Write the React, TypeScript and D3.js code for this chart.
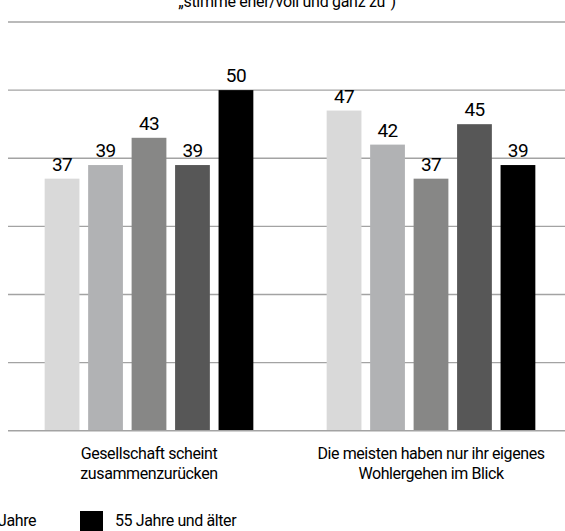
import React from "react";
import * as d3 from "d3";

const categories = [
  ["Gesellschaft scheint", "zusammenzurücken"],
  ["Die meisten haben nur ihr eigenes", "Wohlergehen im Blick"],
];
const seriesNames = ["bis 24 Jahre", "25–34 Jahre", "35–44 Jahre", "45–54 Jahre", "55 Jahre und älter"];
const seriesColors = ["#d9d9d9", "#b1b2b4", "#878786", "#575757", "#000000"];
// one array per age group, one value per statement
const values = [
  [37, 47],
  [39, 42],
  [43, 37],
  [39, 45],
  [50, 39],
];
const yTicks = [0, 10, 20, 30, 40, 50, 60];
const subtitle = "„stimme eher/voll und ganz zu“)";

const W = 565, H = 531;
const FONT = "Roboto, 'Liberation Sans', sans-serif";

export default function App() {
  const catKeys = categories.map((c, i) => "c" + i);
  const x0 = d3.scaleBand().domain(catKeys).range([8, 572]).paddingInner(0.26).paddingOuter(0.13);
  const x1 = d3.scaleBand().domain(seriesNames).range([0, x0.bandwidth()]).paddingInner(0.2);
  const y = d3.scaleLinear().domain([0, 60]).range([430.7, 22]);

  // legend: only the last items fit in the frame, the others sit left of it
  const legendX = (i) => 80 - (seriesNames.length - 1 - i) * 165;

  return (
    <svg width={W} height={H} style={{ position: "fixed", left: 0, top: 0, background: "#fff" }} fontFamily={FONT}>
      <text x={287} y={7} textAnchor="middle" fontSize={16} letterSpacing={-0.3} fill="#000">{subtitle}</text>

      <g>
        {yTicks.map((t) => (
          <line key={t} x1={8} x2={572} y1={y(t)} y2={y(t)} stroke="#a3a3a3" strokeWidth={1.4} />
        ))}
      </g>

      {values.map((vals, si) => (
        <g key={si} fill={seriesColors[si]}>
          {vals.map((v, ci) => {
            const bx = x0(catKeys[ci]) + x1(seriesNames[si]);
            return (
              <g key={ci}>
                <rect x={bx} y={y(v)} width={x1.bandwidth()} height={y(0) - y(v) - 0.7} />
                <text x={bx + x1.bandwidth() / 2} y={y(v) - 8} textAnchor="middle" fontSize={19} letterSpacing={-0.6} fill="#000">{v}</text>
              </g>
            );
          })}
        </g>
      ))}

      {categories.map((lines, ci) => (
        <text key={ci} x={x0(catKeys[ci]) + x0.bandwidth() / 2} y={459} textAnchor="middle" fontSize={16} letterSpacing={-0.4} fill="#000">
          {lines.map((l, li) => (
            <tspan key={li} x={x0(catKeys[ci]) + x0.bandwidth() / 2} dy={li === 0 ? 0 : 20}>{l}</tspan>
          ))}
        </text>
      ))}

      {seriesNames.map((s, i) => (
        <g key={s} transform={`translate(${legendX(i)},511)`}>
          <rect width={23} height={23} fill={seriesColors[i]} />
          <text x={35} y={15} fontSize={16} letterSpacing={-0.4} fill="#000">{s}</text>
        </g>
      ))}
    </svg>
  );
}
